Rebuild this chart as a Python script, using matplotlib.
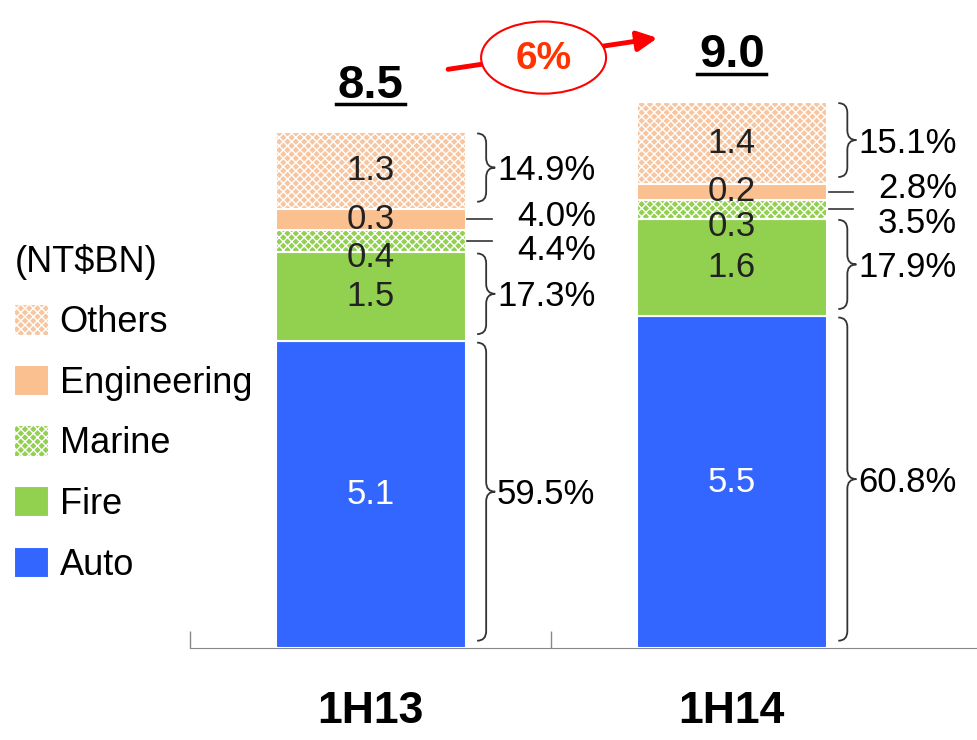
from matplotlib import pyplot as plt
from matplotlib.patches import Ellipse, PathPatch
from matplotlib.path import Path
import matplotlib

matplotlib.rc('font', family='Liberation Sans')
plt.rcParams['hatch.linewidth'] = 1.0

# data
periods = ['1H13', '1H14']
totals = [8.5, 9.0]
growth_label = '6%'
segments = ['Auto', 'Fire', 'Marine', 'Engineering', 'Others']
seg_values = {            # NT$BN, as printed in the bars
    'Auto': [5.1, 5.5],
    'Fire': [1.5, 1.6],
    'Marine': [0.4, 0.3],
    'Engineering': [0.3, 0.2],
    'Others': [1.3, 1.4],
}
seg_shares = {            # % of total, as printed beside the bars
    'Auto': [59.5, 60.8],
    'Fire': [17.3, 17.9],
    'Marine': [4.4, 3.5],
    'Engineering': [4.0, 2.8],
    'Others': [14.9, 15.1],
}

colors = {'Auto': '#3366FF', 'Fire': '#92D050', 'Marine': '#92D050',
          'Engineering': '#FAC090', 'Others': '#F7C6A0'}
hatches = {'Marine': 'xxxx', 'Others': 'xxxx'}
small = ['Marine', 'Engineering']

fig = plt.figure(figsize=(9.77, 7.4), dpi=100)
ax = fig.add_axes([190 / 977, 92 / 740, 787 / 977, 648 / 740])
ax.set_xlim(-0.498, 1.679)
ax.set_ylim(0, 10.69)

x = range(len(periods))
bw = 0.526
txt_col = '#222222'
brace_col = '#333333'


def brace(x0, y0, y1, w, r=0.16):
    ym = (y0 + y1) / 2
    xm = x0 + w / 2
    verts = [(x0, y1), (xm, y1), (xm, y1 - r),
             (xm, ym + r), (xm, ym), (x0 + w, ym),
             (xm, ym), (xm, ym - r),
             (xm, y0 + r), (xm, y0), (x0, y0)]
    codes = [Path.MOVETO, Path.CURVE3, Path.CURVE3,
             Path.LINETO, Path.CURVE3, Path.CURVE3,
             Path.CURVE3, Path.CURVE3,
             Path.LINETO, Path.CURVE3, Path.CURVE3]
    ax.add_patch(PathPatch(Path(verts, codes), fill=False, lw=1.3,
                           ec=brace_col, clip_on=False))


# segment heights from total x share
heights = {s: [t * p / 100 for t, p in zip(totals, seg_shares[s])] for s in segments}
bottoms = {}
acc = [0.0] * len(periods)
for s in segments:
    bottoms[s] = list(acc)
    acc = [a + h for a, h in zip(acc, heights[s])]
mids = {s: [b + h / 2 for b, h in zip(bottoms[s], heights[s])] for s in segments}

handles = {}
for s in segments:
    handles[s] = ax.bar(x, heights[s], bw, bottom=bottoms[s], color=colors[s],
                        edgecolor='white', linewidth=1.5, hatch=hatches.get(s),
                        label=s, zorder=2)
    for i in x:
        y0 = bottoms[s][i]
        y1 = y0 + heights[s][i]
        # value inside bar
        ly = mids[s][i]
        if s == 'Marine':
            ly -= 0.28
        ax.text(i, ly, '%.1f' % seg_values[s][i], ha='center', va='center',
                fontsize=25, color='white' if s == 'Auto' else txt_col, zorder=3)
        # share beside bar
        if s in small:
            ax.plot([i + 0.268, i + 0.337], [mids[s][i]] * 2, color=brace_col,
                    lw=1.2, clip_on=False)
            ty = mids[s][i] + 0.05
            if s == 'Marine':
                ty = min(mids[s][i] - 0.08, mids['Engineering'][i] - 0.52)
            ax.text(i + 0.405, ty, '%.1f%%' % seg_shares[s][i], ha='left',
                    va='center', fontsize=25, color='black')
        else:
            brace(i + 0.295, y0 + 0.12, y1 - 0.02, 0.05)
            ax.text(i + 0.35, mids[s][i], '%.1f%%' % seg_shares[s][i],
                    ha='left', va='center', fontsize=25, color='black')

# totals above bars, bold and underlined
for i in x:
    ax.text(i, totals[i] + 0.58, '%.1f' % totals[i], ha='center',
            va='baseline', fontsize=34, fontweight='bold', color='black')
    ax.plot([i - 0.095, i + 0.095], [totals[i] + 0.47] * 2, color='black',
            lw=2.5, clip_on=False)

# growth arrow with ellipse
ax.annotate('', xy=(0.802, 10.07), xytext=(0.207, 9.54),
            arrowprops=dict(arrowstyle='-|>,head_length=1.2,head_width=0.6',
                            color='#FF0000', lw=3.5), annotation_clip=False)
ax.add_patch(Ellipse((0.479, 9.74), 0.346, 1.19, fc='white', ec='#FF0000',
                     lw=1.5, zorder=4, clip_on=False))
ax.text(0.479, 9.72, growth_label, ha='center', va='center', fontsize=28,
        fontweight='bold', color='#FF3300', zorder=5)

# axis styling
for sp in ['top', 'right', 'left']:
    ax.spines[sp].set_visible(False)
ax.spines['bottom'].set_color('#888888')
ax.spines['bottom'].set_zorder(1)
ax.set_yticks([])
ax.set_xticks(list(x))
ax.set_xticklabels(periods, fontsize=32, fontweight='bold')
ax.tick_params(axis='x', which='major', length=0, pad=31)
ax.set_xticks([-0.5, 0.5], minor=True)
ax.tick_params(axis='x', which='minor', direction='in', length=12,
               color='#888888', width=1)

# legend
order = ['Others', 'Engineering', 'Marine', 'Fire', 'Auto']
leg = fig.legend([handles[s] for s in order], order, title='(NT$BN)',
                 loc='upper left', bbox_to_anchor=(0.0, 0.69),
                 borderaxespad=0, frameon=False, fontsize=26, title_fontsize=26,
                 handlelength=0.95, handleheight=0.95, handletextpad=0.3,
                 labelspacing=0.68, alignment='left')

plt.savefig('out.png', dpi=100)
